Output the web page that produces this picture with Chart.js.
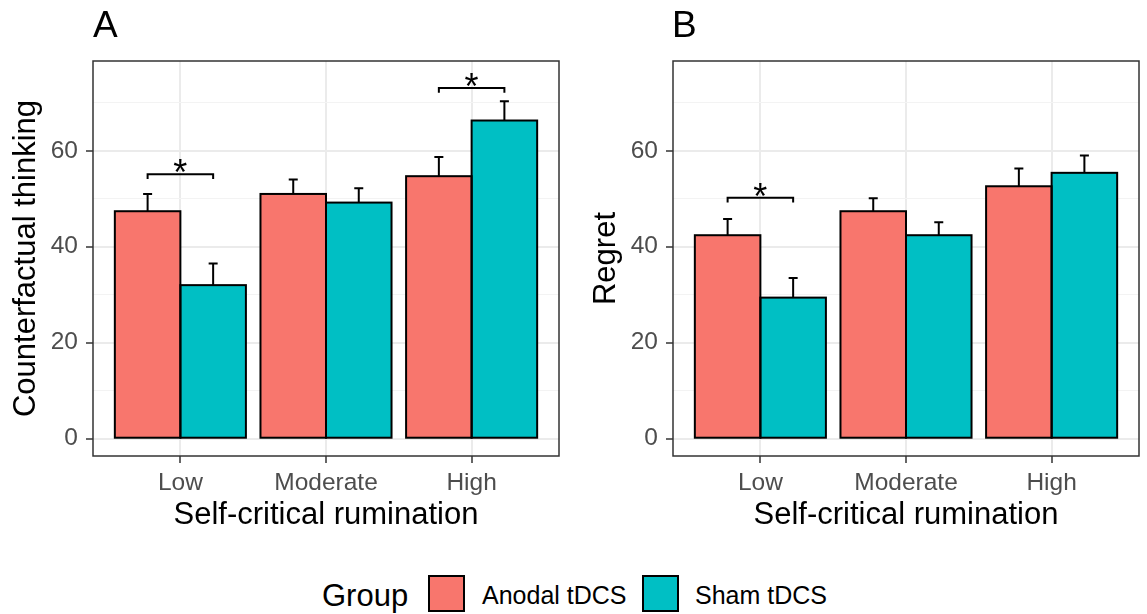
<!DOCTYPE html>
<html>
<head>
<meta charset="utf-8">
<script src="https://cdn.jsdelivr.net/npm/chart.js@4.4.1/dist/chart.umd.min.js"></script>
<style>
    body { margin: 0; width: 1147px; height: 614px; background: #fff; position: relative; overflow: hidden;
           font-family: "Liberation Sans", Arial, sans-serif; }
    canvas { position: absolute; top: 0; }
    .txt { position: absolute; line-height: 1; color: #000; white-space: nowrap; }
    .tag { font-size: 37px; top: 6px; }
    .key { position: absolute; top: 575px; width: 37px; height: 37px; box-sizing: border-box; border: 2px solid #000; }
</style>
</head>
<body>
<canvas id="chartA" width="566" height="545" style="left:0"></canvas>
<canvas id="chartB" width="566" height="545" style="left:580px"></canvas>

<div class="txt tag" style="left:93px">A</div>
<div class="txt tag" style="left:672px">B</div>

<div class="txt" style="left:322px; top:580px; font-size:31px">Group</div>
<div class="key" style="left:428px; background:#F8766D"></div>
<div class="txt" style="left:482px; top:583px; font-size:25px">Anodal tDCS</div>
<div class="key" style="left:642px; background:#00BFC4"></div>
<div class="txt" style="left:695px; top:583px; font-size:25px">Sham tDCS</div>

<script>
const categories = ["Low", "Moderate", "High"];
const groups = ["Anodal tDCS", "Sham tDCS"];

// panel A: counterfactual thinking (mean, se)
const cfAnodal = [47.4, 51.0, 54.7];
const cfAnodalSE = [3.6, 3.0, 4.0];
const cfSham = [32.0, 49.2, 66.3];
const cfShamSE = [4.5, 3.0, 4.0];

// panel B: regret
const regretAnodal = [42.4, 47.4, 52.6];
const regretAnodalSE = [3.4, 2.7, 3.7];
const regretSham = [29.4, 42.4, 55.4];
const regretShamSE = [4.1, 2.7, 3.6];

const yTicks = [0, 10, 20, 30, 40, 50, 60, 70];

// significance brackets: category index + bracket height
const cfSignif = [{cat: 0, y: 55.1}, {cat: 2, y: 73.1}];
const regretSignif = [{cat: 0, y: 50.2}];

Chart.defaults.font.family = "'Liberation Sans', Arial, sans-serif";

const panelExtras = {
    id: "panelExtras",
    afterDatasetsDraw(chart, args, opts) {
        const ctx = chart.ctx;
        const y = chart.scales.y;
        ctx.save();
        ctx.strokeStyle = "#000";
        ctx.lineWidth = 2;
        // bar outlines, centred on the edges like ggplot
        chart.data.datasets.forEach((ds, i) => {
            chart.getDatasetMeta(i).data.forEach(bar => {
                const w = bar.width;
                ctx.strokeRect(bar.x - w / 2, bar.y, w, bar.base - bar.y);
            });
        });
        // error bars (upper half only)
        chart.data.datasets.forEach((ds, i) => {
            const meta = chart.getDatasetMeta(i);
            meta.data.forEach((bar, j) => {
                const top = y.getPixelForValue(ds.data[j].y + ds.se[j]);
                ctx.beginPath();
                ctx.moveTo(bar.x, bar.y);
                ctx.lineTo(bar.x, top);
                ctx.moveTo(bar.x - 4.5, top);
                ctx.lineTo(bar.x + 4.5, top);
                ctx.stroke();
            });
        });
        // brackets + stars
        (opts.signif || []).forEach(s => {
            const x0 = chart.getDatasetMeta(0).data[s.cat].x;
            const x1 = chart.getDatasetMeta(1).data[s.cat].x;
            const py = y.getPixelForValue(s.y);
            const leg = y.getPixelForValue(s.y - 1);
            ctx.beginPath();
            ctx.moveTo(x0, leg);
            ctx.lineTo(x0, py);
            ctx.lineTo(x1, py);
            ctx.lineTo(x1, leg);
            ctx.stroke();
            ctx.fillStyle = "#000";
            ctx.font = "36px 'Liberation Sans', Arial, sans-serif";
            ctx.textAlign = "center";
            ctx.textBaseline = "alphabetic";
            ctx.fillText("*", (x0 + x1) / 2, py + 11);
        });
        ctx.restore();
    },
    afterDraw(chart) {
        const a = chart.chartArea;
        const ctx = chart.ctx;
        ctx.save();
        ctx.strokeStyle = "#333333";
        ctx.lineWidth = 1.5;
        ctx.strokeRect(a.left, a.top, a.right - a.left, a.bottom - a.top);
        ctx.restore();
    }
};

function isMajor(c) {
    return c.tick && c.tick.value % 20 === 0;
}

function renderPanel(canvasId, yTitle, anodal, anodalSE, sham, shamSE, signif) {
    const ctx = document.getElementById(canvasId).getContext("2d");
    return new Chart(ctx, {
        type: "bar",
        data: {
            datasets: [{
                label: groups[0],
                data: anodal.map((v, i) => ({x: i + 1, y: v})),
                se: anodalSE,
                backgroundColor: "#F8766D",
                borderWidth: 0
            }, {
                label: groups[1],
                data: sham.map((v, i) => ({x: i + 1, y: v})),
                se: shamSE,
                backgroundColor: "#00BFC4",
                borderWidth: 0
            }]
        },
        options: {
            responsive: false,
            animation: false,
            categoryPercentage: 0.9,
            barPercentage: 1.0,
            layout: {padding: {left: 0, top: 61, right: 7, bottom: 9}},
            scales: {
                x: {
                    type: "linear",
                    offset: false,
                    min: 0.4,
                    max: 3.6,
                    afterBuildTicks: s => { s.ticks = categories.map((c, i) => ({value: i + 1})); },
                    afterFit: s => { s.height = 80; },
                    ticks: {
                        callback: v => categories[v - 1],
                        color: "#4d4d4d",
                        font: {size: 24.5},
                        padding: 6,
                        maxRotation: 0,
                        autoSkip: false
                    },
                    grid: {offset: false, color: "#ebebeb", lineWidth: 2, tickColor: "#333333", tickLength: 7, tickWidth: 1.5},
                    border: {display: false},
                    title: {display: true, text: "Self-critical rumination", color: "#000",
                        font: {size: 31}, padding: {top: 0, bottom: 2}}
                },
                y: {
                    min: -3.6,
                    max: 78.7,
                    afterBuildTicks: s => { s.ticks = yTicks.map(v => ({value: v})); },
                    afterFit: s => { s.width = 93; },
                    ticks: {
                        callback: v => (v % 20 === 0 ? String(v) : ""),
                        color: "#4d4d4d",
                        font: {size: 24.5},
                        padding: 8
                    },
                    grid: {
                        color: c => (isMajor(c) ? "#ebebeb" : "#f3f3f3"),
                        lineWidth: c => (isMajor(c) ? 2 : 1),
                        tickColor: c => (isMajor(c) ? "#333333" : "rgba(0,0,0,0)"),
                        tickLength: 7,
                        tickWidth: 1.5
                    },
                    border: {display: false},
                    title: {display: true, text: yTitle, color: "#000",
                        font: {size: 31}, padding: {top: 8, bottom: 0}}
                }
            },
            plugins: {
                legend: {display: false},
                tooltip: {enabled: false},
                panelExtras: {signif: signif}
            }
        },
        plugins: [panelExtras]
    });
}

renderPanel("chartA", "Counterfactual thinking", cfAnodal, cfAnodalSE, cfSham, cfShamSE, cfSignif);
renderPanel("chartB", "Regret", regretAnodal, regretAnodalSE, regretSham, regretShamSE, regretSignif);
</script>
</body>
</html>
